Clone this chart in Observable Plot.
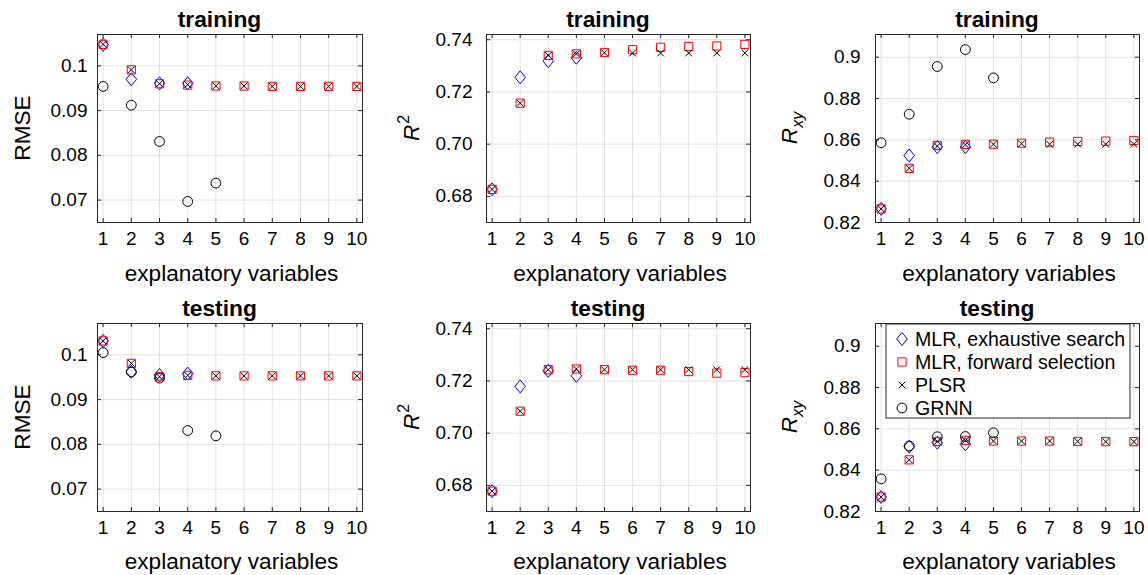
<!DOCTYPE html>
<html><head><meta charset="utf-8">
<script src="https://cdn.jsdelivr.net/npm/d3@7"></script>
<script src="https://cdn.jsdelivr.net/npm/@observablehq/plot@0.6"></script>
<style>
body{margin:0;background:#fff;}
#wrap{position:relative;width:1148px;height:575px;overflow:hidden;background:#fff;}
.panel{position:absolute;}
</style></head><body><div id="wrap"></div>
<script>
// ---------- data ----------
const vars = [1, 2, 3, 4, 5, 6, 7, 8, 9, 10];
const xTicks = [1, 2, 3, 4, 5, 6, 7, 8, 9, 10];
const methods = ["MLR, exhaustive search", "MLR, forward selection", "PLSR", "GRNN"];
const panelTitles = ["training", "testing"];

// training RMSE
const trRmseExh  = [0.1047, 0.0970, 0.0961, 0.0961];
const trRmseFwd  = [0.1048, 0.0991, 0.0960, 0.0957, 0.0955, 0.0955, 0.0954, 0.0954, 0.0954, 0.0954];
const trRmsePls  = [0.1048, 0.0991, 0.0960, 0.0958, 0.0955, 0.0955, 0.0954, 0.0954, 0.0954, 0.0954];
const trRmseGrnn = [0.0954, 0.0912, 0.0831, 0.0697, 0.0738];
// training R2
const trR2Exh = [0.6827, 0.7256, 0.7318, 0.7331];
const trR2Fwd = [0.6827, 0.7157, 0.7340, 0.7346, 0.7351, 0.7362, 0.7371, 0.7374, 0.7376, 0.7382];
const trR2Pls = [0.6827, 0.7157, 0.7340, 0.7346, 0.7350, 0.7349, 0.7349, 0.7349, 0.7349, 0.7349];
// training Rxy
const trRxyExh  = [0.8266, 0.8524, 0.8565, 0.8565];
const trRxyFwd  = [0.8266, 0.8462, 0.8573, 0.8578, 0.8579, 0.8584, 0.8589, 0.8592, 0.8594, 0.8597];
const trRxyPls  = [0.8266, 0.8462, 0.8570, 0.8576, 0.8579, 0.8581, 0.8579, 0.8579, 0.8579, 0.8579];
const trRxyGrnn = [0.8586, 0.8724, 0.8955, 0.9037, 0.8900];
// testing RMSE
const teRmseExh  = [0.1031, 0.0962, 0.0955, 0.0958];
const teRmseFwd  = [0.1031, 0.0981, 0.0951, 0.0954, 0.0953, 0.0953, 0.0953, 0.0953, 0.0953, 0.0953];
const teRmsePls  = [0.1031, 0.0981, 0.0951, 0.0954, 0.0953, 0.0953, 0.0953, 0.0953, 0.0953, 0.0953];
const teRmseGrnn = [0.1005, 0.0962, 0.0948, 0.0831, 0.0819];
// testing R2
const teR2Exh = [0.6778, 0.7179, 0.7239, 0.7220];
const teR2Fwd = [0.6778, 0.7084, 0.7243, 0.7246, 0.7243, 0.7241, 0.7241, 0.7236, 0.7230, 0.7232];
const teR2Pls = [0.6778, 0.7084, 0.7243, 0.7246, 0.7243, 0.7243, 0.7243, 0.7243, 0.7243, 0.7243];
// testing Rxy
const teRxyExh  = [0.8270, 0.8514, 0.8533, 0.8525];
const teRxyFwd  = [0.8270, 0.8450, 0.8539, 0.8544, 0.8541, 0.8541, 0.8541, 0.8539, 0.8538, 0.8538];
const teRxyPls  = [0.8270, 0.8450, 0.8539, 0.8544, 0.8541, 0.8541, 0.8541, 0.8539, 0.8538, 0.8538];
const teRxyGrnn = [0.8358, 0.8517, 0.8562, 0.8563, 0.8581];

// tick values / labels
const rmseTicks = [0.07, 0.08, 0.09, 0.1];
const rmseTickLabels = ["0.07", "0.08", "0.09", "0.1"];
const r2Ticks = [0.68, 0.70, 0.72, 0.74];
const r2TickLabels = ["0.68", "0.70", "0.72", "0.74"];
const rxyTicks = [0.82, 0.84, 0.86, 0.88, 0.9];
const rxyTickLabels = ["0.82", "0.84", "0.86", "0.88", "0.9"];

// ---------- symbols ----------
const rad = size => Math.sqrt(size / Math.PI);
const symDiamond = {draw(c, size) { const r = rad(size); const w = r * 1.06, h = r * 1.3;
  c.moveTo(0, -h); c.lineTo(w, 0); c.lineTo(0, h); c.lineTo(-w, 0); c.closePath(); }};
const symSquare = {draw(c, size) { const r = rad(size) * 0.82;
  c.moveTo(-r, -r); c.lineTo(r, -r); c.lineTo(r, r); c.lineTo(-r, r); c.closePath(); }};
const symTimes = {draw(c, size) { const r = rad(size) * 0.68;
  c.moveTo(-r, -r); c.lineTo(r, r); c.moveTo(r, -r); c.lineTo(-r, r); }};
const symCircle = {draw(c, size) { const r = rad(size) * 0.98;
  c.moveTo(r, 0); c.arc(0, 0, r, 0, 2 * Math.PI); }};
const symbols = [symDiamond, symSquare, symTimes, symCircle];
const colors = ["#0000ff", "#ff0000", "#000000", "#000000"];

const FONT = '"Liberation Sans", Arial, Helvetica, sans-serif';
const AX = "#262626";
const GRID = "#e2e2e2";
const TICKFS = 19;
const LABELFS = 22.6;

function rows(arr) { return arr.map((v, i) => ({x: vars[i], y: v})); }

function panel(o) {
  const {col, row} = o;
  const W = col === 2 ? 370 : 389;
  const H = row === 0 ? 289 : 286;
  const mL = 97, mT = 34, fw = col === 0 ? 265 : 264, fh = 188;
  const mR = W - mL - fw, mB = H - mT - fh;
  const pad = [10, 14, 15][col];
  const series = o.series;
  const dots = series.map((arr, k) => arr ? Plot.dot(rows(arr), {
    x: "x", y: "y", symbol: symbols[k], stroke: colors[k], fill: "none", r: 5, strokeWidth: 1
  }) : null).filter(Boolean);
  const svg = Plot.plot({
    width: W, height: H,
    marginLeft: mL, marginRight: mR, marginTop: mT, marginBottom: mB,
    style: {fontFamily: FONT, background: "white", overflow: "visible", color: "#000"},
    x: {domain: [0.8, 10.2], label: null},
    y: {domain: o.yDomain, label: null},
    marks: [
      Plot.gridX(xTicks, {stroke: GRID, strokeOpacity: 1}),
      Plot.gridY(o.yTicks, {stroke: GRID, strokeOpacity: 1}),
      Plot.ruleX(xTicks, {x: d => d, insetTop: fh - 4, stroke: AX}),
      Plot.ruleX(xTicks, {x: d => d, insetBottom: fh - 4, stroke: AX}),
      Plot.ruleY(o.yTicks, {y: d => d, insetRight: fw - 4, stroke: AX}),
      Plot.ruleY(o.yTicks, {y: d => d, insetLeft: fw - 4, stroke: AX}),
      Plot.axisX(xTicks, {tickSize: 0, tickPadding: 9, fontSize: TICKFS, label: null, tickFormat: d => String(d), fill: "#000"}),
      Plot.axisY(o.yTicks, {tickSize: 0, tickPadding: pad, fontSize: TICKFS, label: null,
        tickFormat: d => o.yLabels[o.yTicks.indexOf(d)], fill: "#000"}),
      ...dots,
      Plot.frame({stroke: AX, strokeWidth: 1})
    ]
  });
  const s = d3.select(svg);
  s.append("text").attr("x", mL + fw / 2 - 10).attr("y", mT - 7.5)
    .attr("text-anchor", "middle").attr("font-size", 22.8).attr("font-weight", "bold")
    .attr("font-family", FONT).attr("fill", "#000").text(o.title);
  s.append("text").attr("x", mL + fw / 2 + 2).attr("y", mT + fh + (row === 0 ? 59 : 58))
    .attr("text-anchor", "middle").attr("font-size", LABELFS)
    .attr("font-family", FONT).attr("fill", "#000").text("explanatory variables");
  const yl = s.append("text").attr("text-anchor", "middle").attr("font-size", LABELFS)
    .attr("font-family", FONT).attr("fill", "#000");
  if (o.ylab === "RMSE") {
    yl.attr("transform", `translate(30,${mT + fh / 2}) rotate(-90)`).text("RMSE");
  } else if (o.ylab === "R2") {
    yl.attr("transform", `translate(30,${mT + fh / 2}) rotate(-90)`);
    yl.append("tspan").attr("font-style", "italic").text("R");
    yl.append("tspan").attr("font-size", 16).attr("dy", -10).attr("dx", 1).text("2");
  } else {
    yl.attr("transform", `translate(19,${mT + fh / 2}) rotate(-90)`);
    yl.append("tspan").attr("font-style", "italic").text("R");
    yl.append("tspan").attr("font-style", "italic").attr("font-size", 16).attr("dy", 6).text("xy");
  }
  if (o.legend) {
    const g = s.append("g").attr("text-anchor", "start");
    g.append("rect").attr("x", 108).attr("y", 35).attr("width", 244).attr("height", 94)
      .attr("fill", "white").attr("stroke", AX).attr("stroke-width", 1);
    methods.forEach((m, k) => {
      const cy = 50 + k * 23;
      g.append("path").attr("d", d3.symbol().type(symbols[k]).size(Math.PI * 25)())
        .attr("transform", `translate(124,${cy})`).attr("fill", "none").attr("stroke", colors[k]);
      g.append("text").attr("x", 137).attr("y", cy).attr("dy", "0.36em").attr("text-anchor", "start")
        .attr("font-size", 19.6).attr("font-family", FONT).attr("fill", "#000").text(m);
    });
  }
  const div = document.createElement("div");
  div.className = "panel";
  div.style.left = (col * 389) + "px";
  div.style.top = (row * 289) + "px";
  div.appendChild(svg);
  document.getElementById("wrap").appendChild(div);
}

const rmseDomain = [0.065, 0.107];
const r2Domain = [0.670, 0.742];
const rxyDomain = [0.82, 0.911];

panel({col: 0, row: 0, title: panelTitles[0], ylab: "RMSE", yDomain: rmseDomain, yTicks: rmseTicks, yLabels: rmseTickLabels,
  series: [trRmseExh, trRmseFwd, trRmsePls, trRmseGrnn]});
panel({col: 1, row: 0, title: panelTitles[0], ylab: "R2", yDomain: r2Domain, yTicks: r2Ticks, yLabels: r2TickLabels,
  series: [trR2Exh, trR2Fwd, trR2Pls, null]});
panel({col: 2, row: 0, title: panelTitles[0], ylab: "Rxy", yDomain: rxyDomain, yTicks: rxyTicks, yLabels: rxyTickLabels,
  series: [trRxyExh, trRxyFwd, trRxyPls, trRxyGrnn]});
panel({col: 0, row: 1, title: panelTitles[1], ylab: "RMSE", yDomain: rmseDomain, yTicks: rmseTicks, yLabels: rmseTickLabels,
  series: [teRmseExh, teRmseFwd, teRmsePls, teRmseGrnn]});
panel({col: 1, row: 1, title: panelTitles[1], ylab: "R2", yDomain: r2Domain, yTicks: r2Ticks, yLabels: r2TickLabels,
  series: [teR2Exh, teR2Fwd, teR2Pls, null]});
panel({col: 2, row: 1, title: panelTitles[1], ylab: "Rxy", yDomain: rxyDomain, yTicks: rxyTicks, yLabels: rxyTickLabels,
  series: [teRxyExh, teRxyFwd, teRxyPls, teRxyGrnn], legend: true});
</script></body></html>
